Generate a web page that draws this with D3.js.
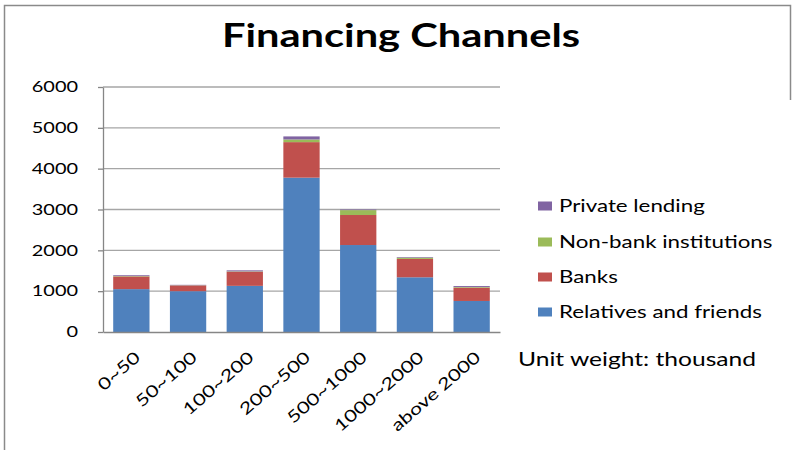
<!DOCTYPE html>
<html>
<head>
<meta charset="utf-8">
<script src="https://cdn.jsdelivr.net/npm/d3@7"></script>
<style>
  body { margin: 0; background: #fff; }
  svg { display: block; }
  text { font-family: Lato, "Open Sans", sans-serif; fill: #000; }
</style>
</head>
<body>
<svg id="chart" width="793" height="450"></svg>
<script>
// Financing amount brackets (thousand)
const categories = ["0~50", "50~100", "100~200", "200~500", "500~1000", "1000~2000", "above 2000"];
// Stacked series, bottom to top
const seriesNames = ["Relatives and friends", "Banks", "Non-bank institutions", "Private lending"];
const relativesFriends = [1050, 1000, 1130, 3780, 2130, 1340, 760];
const banks = [310, 140, 345, 870, 735, 450, 325];
const nonBank = [10, 5, 10, 65, 120, 30, 15];
const privateLending = [20, 10, 25, 75, 15, 15, 25];
const yTicks = [0, 1000, 2000, 3000, 4000, 5000, 6000];
const titleText = "Financing Channels";
const unitText = "Unit weight: thousand";

const colors = ["#4F81BD", "#C0504D", "#9BBB59", "#8064A2"];
const seriesValues = [relativesFriends, banks, nonBank, privateLending];

const rows = categories.map((c, i) => {
  const r = { category: c };
  seriesNames.forEach((s, k) => { r[s] = seriesValues[k][i]; });
  return r;
});

const svg = d3.select("#chart");
const plot = { left: 103, right: 500, top: 87, bottom: 332 };
const sx = 1.33;           // horizontal glyph stretch used throughout the figure

// frame
svg.append("path")
  .attr("d", "M4.5,450 V5.5 H790.5 V100")
  .attr("fill", "none")
  .attr("stroke", "#8a8a8a")
  .attr("stroke-width", 1.5);

const x = d3.scaleBand()
  .domain(categories)
  .range([plot.left, plot.right])
  .paddingInner(0.36)
  .paddingOuter(0.18);

const y = d3.scaleLinear()
  .domain([0, 6000])
  .range([plot.bottom, plot.top]);

// gridlines
svg.append("g")
  .selectAll("line")
  .data(yTicks.filter(d => d > 0))
  .join("line")
  .attr("x1", plot.left).attr("x2", plot.right)
  .attr("y1", d => y(d)).attr("y2", d => y(d))
  .attr("stroke", "#a6a6a6")
  .attr("stroke-width", 1.3);

// stacked bars
const stacked = d3.stack().keys(seriesNames)(rows);
svg.append("g")
  .selectAll("g")
  .data(stacked)
  .join("g")
  .attr("fill", (d, i) => colors[i])
  .selectAll("rect")
  .data(d => d)
  .join("rect")
  .attr("x", d => x(d.data.category))
  .attr("width", x.bandwidth())
  .attr("y", d => y(d[1]))
  .attr("height", d => y(d[0]) - y(d[1]));

// y axis
const yAxis = svg.append("g")
  .attr("transform", `translate(${plot.left},0)`)
  .call(d3.axisLeft(y).tickValues(yTicks).tickSize(5).tickSizeOuter(0).tickFormat(d3.format("d")));
yAxis.select(".domain").attr("stroke", "#868686").attr("stroke-width", 1.3);
yAxis.selectAll(".tick line").attr("stroke", "#868686").attr("stroke-width", 1.3);
yAxis.selectAll(".tick text")
  .attr("font-family", "Lato")
  .attr("font-size", 15)
  .attr("fill", "#000")
  .attr("x", -25 / sx)
  .attr("transform", `scale(${sx},1)`);

// x axis
const xAxis = svg.append("g")
  .attr("transform", `translate(0,${plot.bottom})`)
  .call(d3.axisBottom(x).tickSize(0).tickSizeOuter(0));
xAxis.select(".domain").attr("stroke", "#868686").attr("stroke-width", 1.3);
xAxis.selectAll(".tick text")
  .attr("font-family", "Lato")
  .attr("font-size", 16.5)
  .attr("fill", "#000")
  .attr("x", 0).attr("y", 0).attr("dy", 0)
  .attr("text-anchor", "end")
  .attr("transform", `translate(10,27) rotate(-41) scale(1.3,1)`);

// title
svg.append("text")
  .attr("transform", `translate(401,47) scale(1.3,1)`)
  .attr("text-anchor", "middle")
  .attr("font-weight", "bold")
  .attr("font-size", 32)
  .text(titleText);

// legend, top entry is the top of the stack
const legendRows = [206, 242, 277, 312];
const legend = svg.append("g")
  .selectAll("g")
  .data(seriesNames.map((s, i) => ({ name: s, color: colors[i] })).reverse())
  .join("g")
  .attr("transform", (d, i) => `translate(538,${legendRows[i]})`);
legend.append("rect")
  .attr("x", 0).attr("y", -4.5)
  .attr("width", 14).attr("height", 9)
  .attr("fill", d => d.color);
legend.append("text")
  .attr("transform", `translate(21,6) scale(${sx},1)`)
  .attr("font-size", 16.8)
  .text(d => d.name);

// unit note
svg.append("text")
  .attr("transform", `translate(518,366) scale(${sx},1)`)
  .attr("font-size", 18.5)
  .text(unitText);
</script>
</body>
</html>
